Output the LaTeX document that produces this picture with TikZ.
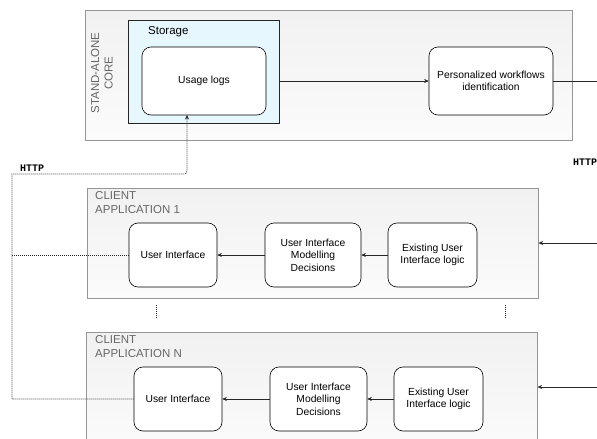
\documentclass[tikz,border=0pt]{standalone}
\usepackage{fontspec}
\setmainfont{Liberation Sans}
\newfontfamily\monof{Liberation Mono}
\usetikzlibrary{arrows.meta}
\definecolor{contborder}{RGB}{150,150,150}
\definecolor{conttext}{RGB}{102,102,102}
\definecolor{storefill}{RGB}{230,247,253}
\begin{document}
\begin{tikzpicture}[x=1pt,y=-1pt,
  container/.style={draw=contborder, top color=gray!11, bottom color=gray!3, anchor=north west, inner sep=0pt, line width=0.6pt},
  rbox/.style={draw=black, rounded corners=9pt, fill=white, align=center, inner sep=0pt, line width=0.6pt, font=\fontsize{10.3}{12.5}\selectfont},
  ctitle/.style={text=conttext, align=left, anchor=north west, inner sep=0pt, font=\fontsize{11.5}{14}\selectfont},
  arr/.style={draw=black!85, line width=0.6pt, -{Stealth[length=4.5pt,width=4pt]}},
  plain/.style={draw=black!85, line width=0.6pt},
  dotline/.style={draw=black!85, line width=0.6pt, dash pattern=on 1pt off 1pt},
  httplbl/.style={font=\monof\bfseries\fontsize{10}{11}\selectfont, anchor=west, inner sep=0pt}
]
\useasboundingbox (0,0) rectangle (597,439);
\fill[white] (0,0) rectangle (597,439);

% Stand-alone core
\node[container, minimum width=487pt, minimum height=130pt] (core) at (85,10) {};
\node[rotate=90, align=center, text=conttext, inner sep=0pt, font=\fontsize{11.5}{13.5}\selectfont] (corelbl) at (102,73) {STAND-ALONE\\CORE};
\node[draw=black!85, fill=storefill, anchor=north west, inner sep=0pt, minimum width=151pt, minimum height=103pt, line width=0.6pt] (store) at (128,20) {};
\node[anchor=west, inner sep=0pt, font=\fontsize{11.5}{14}\selectfont] (storelbl) at (148,32) {Storage};
\node[rbox, minimum width=124pt, minimum height=68pt] (usage) at (204,81) {Usage logs};
\node[rbox, minimum width=124pt, minimum height=68pt] (pers) at (491,81) {Personalized workflows\\identification};
\coordinate (coreout) at (600,81);
\draw[arr] (store.east |- pers.west) -- (pers.west);
\draw[plain] (pers.east) -- (coreout);

% Client application 1
\node[container, minimum width=451pt, minimum height=110pt] (app1) at (87,188) {};
\node[ctitle] (app1lbl) at (95,191) {CLIENT\\APPLICATION 1};
\node[rbox, minimum width=88pt, minimum height=64pt] (ui1) at (173,255) {User Interface};
\node[rbox, minimum width=96pt, minimum height=64pt] (md1) at (313,255) {User Interface\\Modelling\\Decisions};
\node[rbox, minimum width=89pt, minimum height=64pt] (ex1) at (432.5,255) {Existing User\\Interface logic};
\draw[arr] (md1.west) -- (ui1.east);
\draw[arr] (ex1.west) -- (md1.east);
\coordinate (in1) at (600,243);
\draw[arr] (in1) -- (app1.east |- in1);

% vertical ellipsis
\coordinate (ea) at (156,305);
\coordinate (eb) at (156,318);
\coordinate (ec) at (505,305);
\coordinate (ed) at (505,318);
\draw[dotline] (ea) -- (eb);
\draw[dotline] (ec) -- (ed);

% Client application N
\node[container, minimum width=451pt, minimum height=120pt] (appN) at (86,332) {};
\node[ctitle] (appNlbl) at (95,335) {CLIENT\\APPLICATION N};
\node[rbox, minimum width=88pt, minimum height=64pt] (uiN) at (178,399) {User Interface};
\node[rbox, minimum width=97pt, minimum height=64pt] (mdN) at (318.5,399) {User Interface\\Modelling\\Decisions};
\node[rbox, minimum width=89pt, minimum height=64pt] (exN) at (438.5,399) {Existing User\\Interface logic};
\draw[arr] (mdN.west) -- (uiN.east);
\draw[arr] (exN.west) -- (mdN.east);
\coordinate (inN) at (600,387);
\draw[arr] (inN) -- (appN.east |- inN);

% HTTP dotted connectors
\coordinate (railbot) at (12,399);
\coordinate (railtop) at (12,174);
\coordinate (bendpt) at (187,174);
\coordinate (usein) at (187,115);
\draw[dotline, -{Stealth[length=4.5pt,width=4pt]}] (uiN.west) -- (railbot) -- (railtop) [rounded corners=3pt] -- (bendpt) -- (usein);
\draw[dotline] (ui1.west) -- (ui1.west -| railtop);
\node[httplbl] (http1) at (20,168) {HTTP};
\node[httplbl] (http2) at (573,162) {HTTP};
\end{tikzpicture}
\end{document}
